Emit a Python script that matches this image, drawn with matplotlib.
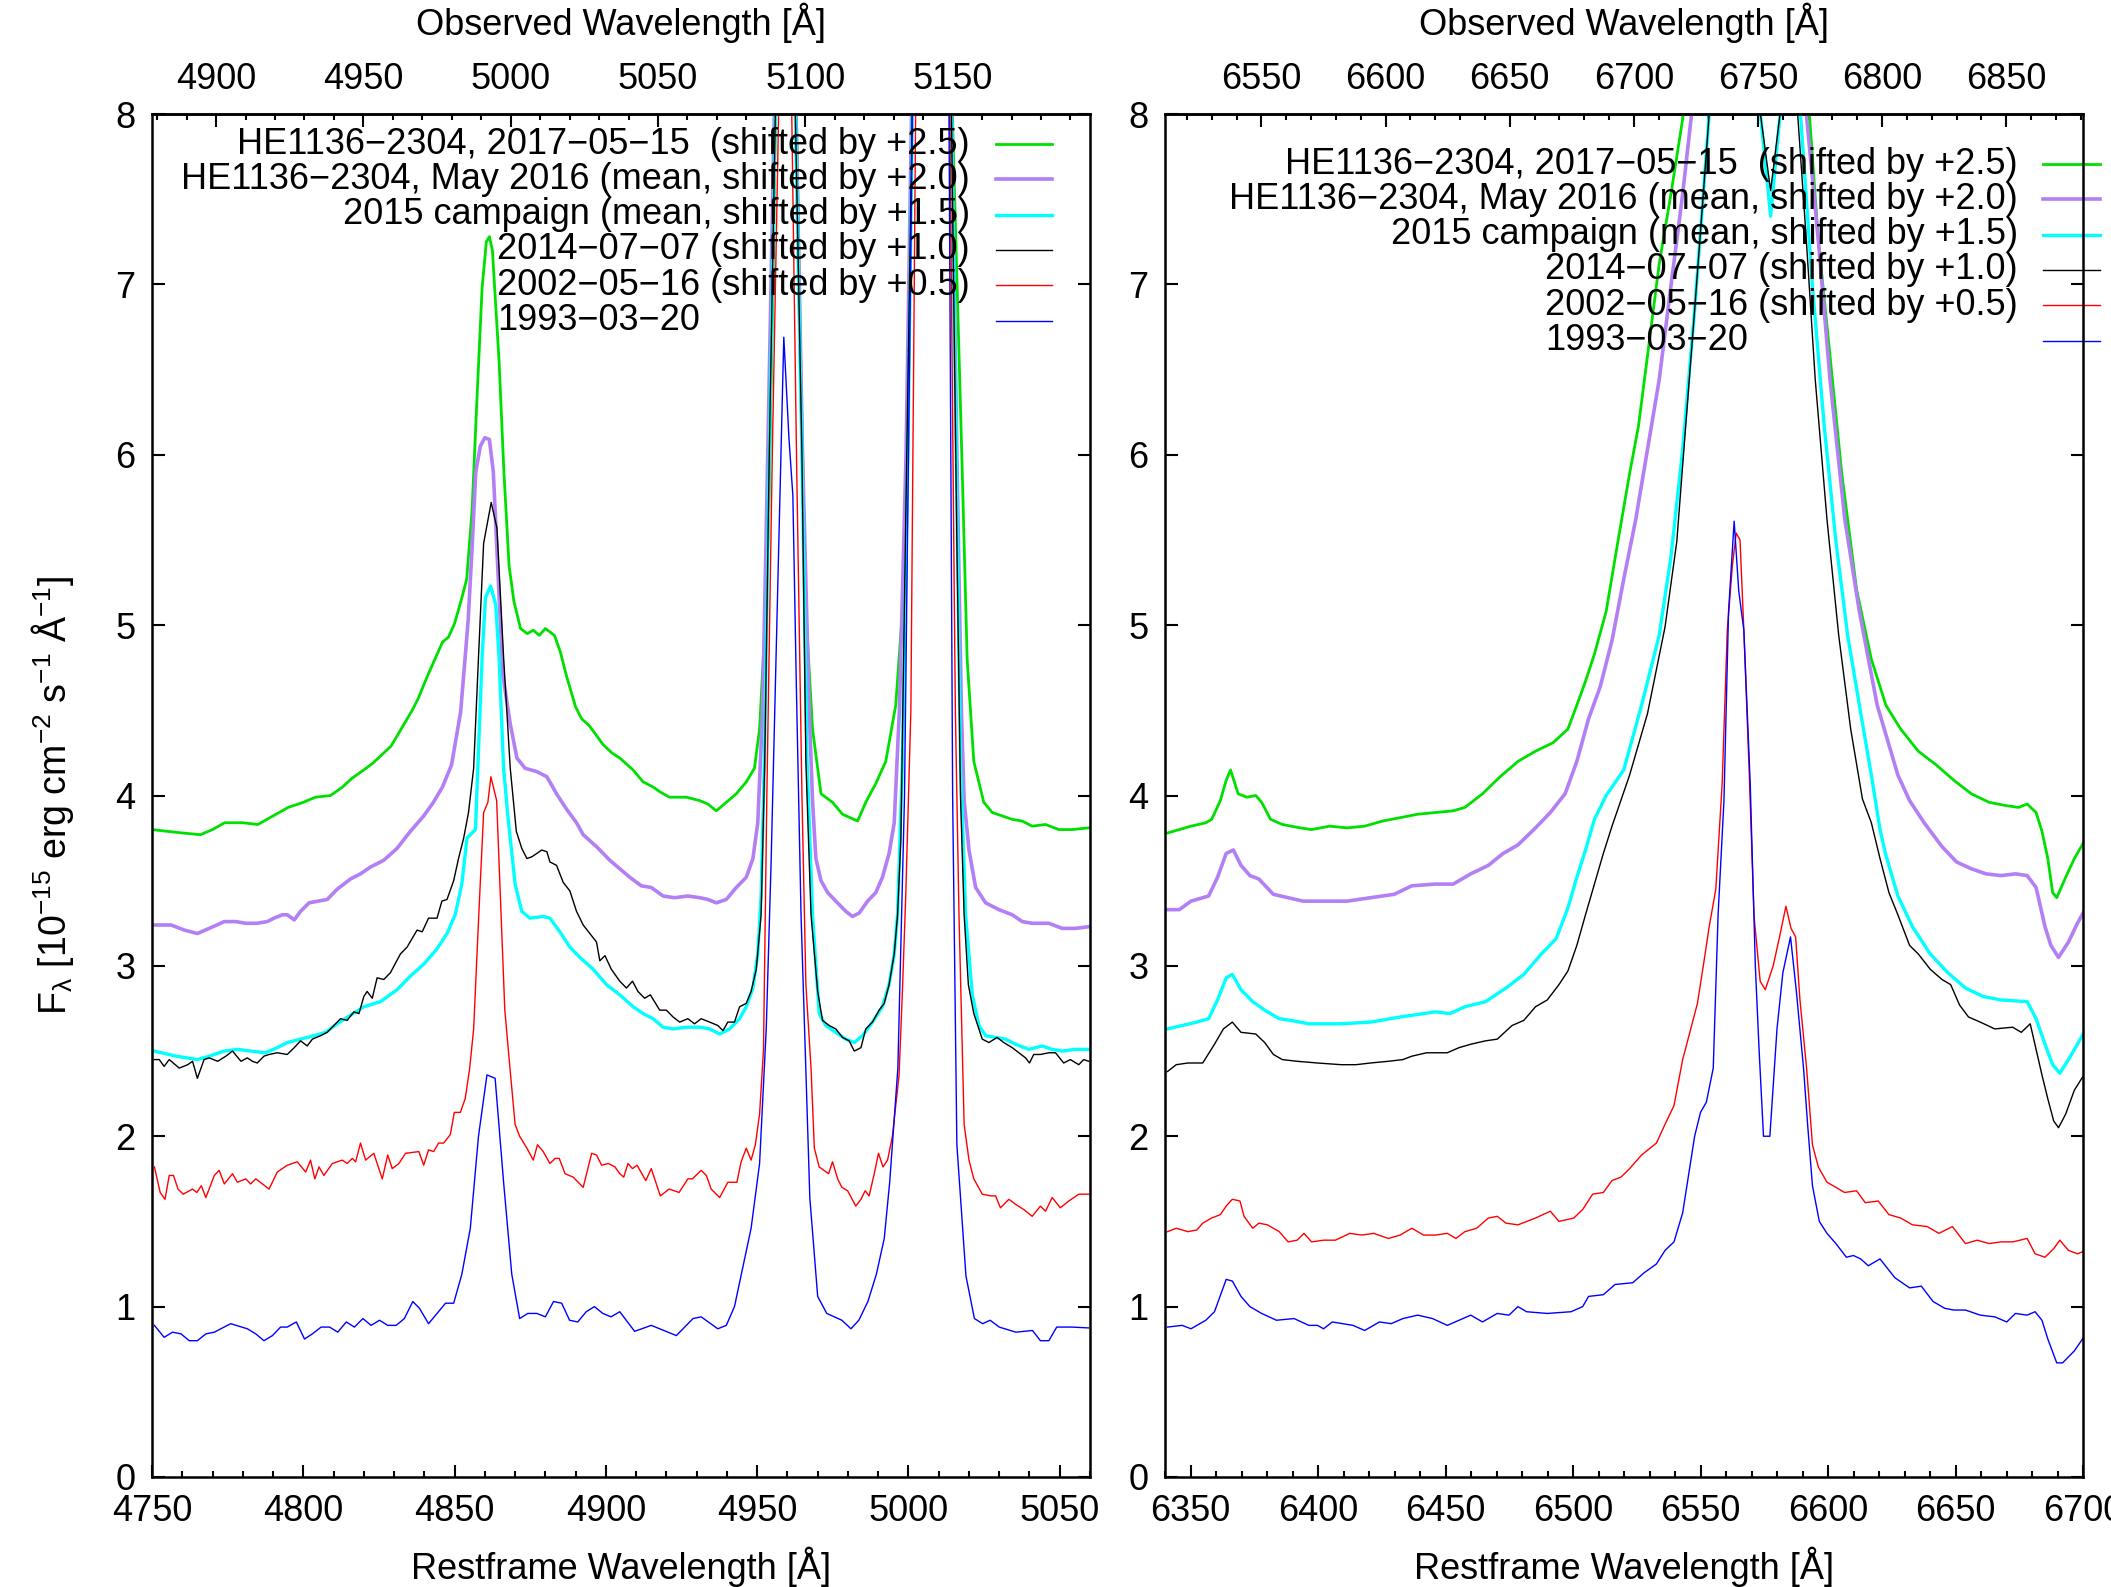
import numpy as np
import matplotlib.pyplot as plt

plt.rcParams["font.family"] = ["Liberation Sans", "DejaVu Sans"]
plt.rcParams["mathtext.fontset"] = "custom"
plt.rcParams["mathtext.rm"] = "Liberation Sans"
plt.rcParams["mathtext.it"] = "Liberation Sans:italic"
plt.rcParams["font.size"] = 26

Z = 0.027  # redshift of HE1136-2304, observed = rest*(1+z)

# ---------------- H-beta / [OIII] region (rest frame) ----------------
hb_wl_2017 = [4750, 4755, 4760, 4766, 4770, 4774, 4780, 4785, 4788, 4792, 4795, 4800, 4804, 4809, 4813,
              4816, 4820, 4823, 4826, 4829, 4831, 4833, 4836, 4838, 4841, 4843, 4846, 4848, 4850, 4852.4,
              4854, 4855.8, 4857.4, 4859.1, 4860.5, 4861.5, 4862.5, 4864.7, 4866.3, 4868, 4869.6, 4871.8,
              4874, 4876, 4878, 4880, 4883, 4885, 4887, 4890, 4892, 4894.5, 4897, 4899, 4902, 4904.6, 4909,
              4912.3, 4915.6, 4918, 4921, 4926.6, 4931, 4933.7, 4936.5, 4939.8, 4943.1, 4946.4, 4949.1,
              4950.8, 4952.4, 4953.8, 4955.2, 4956.3, 4959, 4962.5, 4964.5, 4966.1, 4968.3, 4971.1, 4974.9,
              4978.2, 4983.2, 4985.9, 4989.2, 4992.5, 4995.8, 4998, 4999.7, 5001.2, 5007, 5014.2, 5017.8,
              5019.4, 5021.6, 5024.9, 5027.7, 5031, 5034.3, 5037.6, 5040.9, 5045.3, 5049.7, 5054, 5059.6]
hb_fx_2017 = [3.80, 3.79, 3.78, 3.77, 3.80, 3.84, 3.84, 3.83, 3.86, 3.90, 3.93, 3.96, 3.99, 4.00, 4.05,
              4.10, 4.15, 4.19, 4.24, 4.29, 4.35, 4.41, 4.50, 4.57, 4.70, 4.78, 4.90, 4.93, 5.01, 5.16,
              5.27, 5.68, 6.33, 6.98, 7.25, 7.28, 7.20, 6.55, 5.90, 5.35, 5.14, 4.98,
              4.95, 4.97, 4.94, 4.98, 4.94, 4.84, 4.70, 4.52, 4.45, 4.41, 4.35, 4.30, 4.25, 4.22, 4.15,
              4.08, 4.05, 4.02, 3.99, 3.99, 3.97, 3.95, 3.91, 3.96, 4.01, 4.08, 4.16,
              4.39, 4.94, 5.62, 6.99, 8.3, 15.0, 8.5, 6.44, 5.08, 4.39, 4.01, 3.96,
              3.89, 3.85, 3.96, 4.07, 4.20, 4.53, 5.08, 5.89, 8.2, 40.0, 8.2, 5.89,
              4.80, 4.20, 3.96, 3.90, 3.88, 3.86, 3.85, 3.82, 3.83, 3.80, 3.80, 3.81]

hb_wl_2016 = [4750.8, 4756.3, 4760.7, 4765, 4768.9, 4773.9, 4777.7, 4781, 4784.8, 4788.1, 4790.3, 4793.1,
              4794.7, 4797, 4799.1, 4801.9, 4807.9, 4811.2, 4815.6, 4818.9, 4822.2, 4826.6, 4831, 4835.4,
              4839.8, 4843, 4846, 4849, 4852, 4854.5, 4855.8, 4857, 4858.5, 4860, 4861.5, 4862.8, 4864.5,
              4866, 4868.4, 4870.6, 4873.3, 4877.2, 4880.5, 4883.7, 4887, 4890.3, 4892.5, 4896.9, 4901.3,
              4904.6, 4907.9, 4911.7, 4915, 4918.9, 4922.7, 4927.1, 4931, 4933.7, 4936.5, 4939.8, 4943.1,
              4946.4, 4948.6, 4950.2, 4951.8, 4953.5, 4956, 4959, 4962.5, 4965, 4967.2, 4968.3, 4969.4,
              4971.1, 4973.3, 4976, 4979.3, 4981.5, 4983.7, 4986.5, 4989.2, 4991.4, 4993.6, 4995.3, 4997,
              4999.2, 5001.3, 5007, 5014, 5016, 5017.5, 5018.4, 5020, 5022.2, 5025.5, 5029.9, 5034.3,
              5037.6, 5040.9, 5046.4, 5050.8, 5055.2, 5059.6]
hb_fx_2016 = [3.24, 3.24, 3.21, 3.19, 3.22, 3.26, 3.26, 3.25, 3.25, 3.26, 3.28, 3.30,
              3.30, 3.27, 3.32, 3.37, 3.39, 3.45, 3.51, 3.54, 3.58, 3.62, 3.69, 3.79,
              3.88, 3.96, 4.05, 4.18, 4.49, 5.03, 5.46, 5.90, 6.05, 6.10, 6.09, 5.90, 5.25,
              4.70, 4.42, 4.22, 4.16, 4.14, 4.11, 4.01, 3.92, 3.84, 3.77, 3.70, 3.62,
              3.57, 3.52, 3.47, 3.46, 3.41, 3.40, 3.41, 3.40, 3.39, 3.37, 3.39, 3.46,
              3.52, 3.63, 3.84, 4.5, 6.0, 8.3, 15.0, 8.3, 6.0, 4.5, 3.97, 3.63,
              3.50, 3.43, 3.38, 3.32, 3.29, 3.31, 3.38, 3.43, 3.52, 3.66, 3.84, 4.5,
              6.0, 8.3, 40.0, 8.3, 6.0, 4.5, 3.97, 3.68, 3.46, 3.37, 3.33, 3.30,
              3.26, 3.25, 3.25, 3.22, 3.22, 3.23]

hb_wl_2015 = [4750.8, 4758, 4765, 4768.9, 4773.9, 4778.3, 4782.6, 4787.5, 4791.4, 4794.7, 4799.1, 4803.5,
              4807.4, 4811.2, 4815.6, 4820, 4825.5, 4831, 4835.4, 4839.8, 4844.2, 4847.5, 4850.2, 4852.4,
              4854.1, 4856.9, 4858, 4859.1, 4860.2, 4861.9, 4863.6, 4864.7, 4866.2, 4867.5, 4870, 4872.2,
              4874.9, 4879.3, 4881.5, 4884.8, 4888.1, 4891.4, 4895.8, 4900.2, 4904.6, 4909, 4912.3, 4915.6,
              4918.9, 4922.2, 4926.6, 4931, 4934.3, 4937.6, 4940.9, 4944.2, 4946.4, 4948.6, 4950.2, 4951.3,
              4952.4, 4954, 4956.3, 4959, 4962.3, 4964.8, 4966.5, 4968.3, 4970.5, 4972.7, 4976, 4979.3,
              4982.1, 4984.8, 4988.1, 4991.4, 4993.6, 4995.3, 4996.4, 4998, 4999.8, 5001.5, 5007, 5014,
              5015.8, 5017.2, 5018.9, 5021.1, 5023.3, 5025.5, 5028.8, 5032.1, 5035.4, 5039.8, 5044.2,
              5047.5, 5050.8, 5055.2, 5059.6]
hb_fx_2015 = [2.50, 2.47, 2.45, 2.47, 2.50, 2.51, 2.50, 2.49, 2.52, 2.55, 2.57, 2.59,
              2.61, 2.66, 2.71, 2.76, 2.79, 2.86, 2.94, 3.01, 3.10, 3.19, 3.30, 3.48,
              3.75, 3.80, 4.31, 4.81, 5.16, 5.23, 5.12, 4.81, 4.16, 3.90, 3.48, 3.32,
              3.28, 3.29, 3.28, 3.20, 3.11, 3.05, 2.98, 2.89, 2.83, 2.76, 2.72, 2.69,
              2.64, 2.63, 2.64, 2.64, 2.63, 2.60, 2.63, 2.69, 2.76, 2.87, 3.07, 3.41,
              4.2, 6.0, 8.3, 15.0, 8.3, 6.0, 4.2, 3.3, 2.72, 2.65, 2.61, 2.57,
              2.55, 2.59, 2.67, 2.76, 2.89, 3.07, 3.3, 4.2, 6.0, 8.3, 40.0, 8.3,
              6.0, 4.2, 3.3, 2.83, 2.65, 2.59, 2.58, 2.57, 2.54, 2.51, 2.53,
              2.51, 2.50, 2.51, 2.51]

hb_wl_2014 = [4750.8, 4752.4, 4754, 4755.7, 4759, 4761.8, 4763.4, 4765, 4767.2, 4768.9, 4771.7, 4774.4,
              4776.6, 4779.4, 4781.5, 4783.2, 4784.8, 4787, 4788.7, 4791.4, 4794.7, 4797, 4799.1, 4801.3,
              4803, 4805.7, 4807.9, 4810.1, 4812.3, 4814.5, 4816.7, 4818.4, 4820, 4821.1, 4822.8, 4824.4,
              4826.6, 4828.8, 4832.1, 4834.3, 4837.6, 4839.3, 4841.4, 4844.2, 4845.8, 4847.5, 4849.7,
              4851.3, 4853, 4854.6, 4856.3, 4857.9, 4859.6, 4862.1, 4864, 4866.2, 4868.4, 4870.4, 4872.2,
              4873.9, 4875.5, 4877.2, 4878.8, 4880.5, 4881.5, 4883.7, 4885.9, 4888.1, 4890.3, 4892.5,
              4894.7, 4896.9, 4898, 4899.7, 4901.8, 4904.6, 4906.8, 4908.8, 4910.6, 4912.8, 4914.7,
              4917.8, 4920, 4922.2, 4924.4, 4927.1, 4929.3, 4931.5, 4934.3, 4937, 4938.7, 4940.3, 4942.5,
              4944.2, 4946.4, 4948, 4949.7, 4951.3, 4952.5, 4954, 4956.3, 4959, 4962.3, 4964.8, 4966.1,
              4967.8, 4970, 4971.6, 4973.8, 4976, 4978.2, 4980.4, 4982.1, 4984.3, 4985.9, 4988.1, 4990.3,
              4992, 4993.6, 4995.3, 4996.4, 4997.5, 4999, 5001.5, 5007, 5014, 5016, 5017.2, 5018.4,
              5019.8, 5021.6, 5024.4, 5026.6, 5029.3, 5031.5, 5034.3, 5036.5, 5038.7, 5040, 5041.4,
              5043.6, 5046.4, 5048.6, 5051.3, 5053.5, 5056.3, 5057.9, 5059.6]
hb_fx_2014 = [2.45, 2.45, 2.41, 2.45, 2.40, 2.42, 2.44, 2.34, 2.45, 2.46, 2.44, 2.47,
              2.50, 2.44, 2.46, 2.44, 2.43, 2.47, 2.48, 2.49, 2.48, 2.52, 2.56, 2.53,
              2.57, 2.59, 2.61, 2.65, 2.69, 2.68, 2.73, 2.72, 2.82, 2.85, 2.81, 2.93,
              2.92, 2.96, 3.07, 3.11, 3.21, 3.20, 3.28, 3.28, 3.38, 3.39, 3.50,
              3.63, 3.75, 3.90, 4.16, 4.81, 5.48, 5.72, 5.57, 4.81, 4.16, 3.79, 3.69,
              3.63, 3.64, 3.66, 3.68, 3.67, 3.61, 3.59, 3.49, 3.44, 3.32, 3.24,
              3.19, 3.14, 3.03, 3.06, 2.98, 2.91, 2.87, 2.91, 2.85, 2.81, 2.83,
              2.74, 2.74, 2.70, 2.67, 2.69, 2.66, 2.69, 2.67, 2.65, 2.62, 2.67, 2.67,
              2.76, 2.78, 2.85, 2.98, 3.3, 4.2, 6.0, 8.3, 15.0, 8.3, 6.0, 4.2,
              3.3, 2.85, 2.68, 2.65, 2.63, 2.58, 2.56, 2.50, 2.52, 2.63, 2.67, 2.74,
              2.78, 2.89, 3.07, 3.3, 3.75, 5.5, 8.3, 40.0, 8.3, 5.5, 4.0, 3.3,
              2.89, 2.72, 2.57, 2.55, 2.58, 2.55, 2.52, 2.49, 2.46, 2.43, 2.48,
              2.48, 2.49, 2.49, 2.43, 2.45, 2.42, 2.45, 2.44]

hb_wl_2002 = [4750.8, 4752.7, 4754.3, 4755.7, 4757.1, 4758.6, 4760.3, 4763.4, 4764.8, 4766.3, 4767.8, 4770.6,
              4772.2, 4773.9, 4776.6, 4778.2, 4781, 4782.6, 4784.3, 4788.7, 4791.4, 4794.7, 4798, 4800.8,
              4802.4, 4803.8, 4805.2, 4806.8, 4809.6, 4812.9, 4814.5, 4816.2, 4817.3, 4818.9, 4820.6,
              4823.3, 4826.1, 4827.9, 4829.4, 4831.6, 4833.8, 4838.2, 4839.8, 4841.4, 4843.1, 4844.7,
              4846.4, 4848.6, 4849.9, 4851.9, 4853.5, 4855, 4856.3, 4858, 4859.6, 4861, 4862, 4863.9,
              4866.6, 4868.3, 4870, 4871.5, 4873.9, 4876, 4877.4, 4879.3, 4881.5, 4883.2, 4884.6, 4886.5,
              4889.2, 4892.5, 4895.3, 4896.9, 4898.6, 4900.8, 4903, 4904.6, 4905.9, 4907.3, 4908.8,
              4910.3, 4913.2, 4915, 4916.5, 4918, 4920.9, 4924.2, 4927.1, 4928.6, 4931.5, 4933.2, 4934.8,
              4937.6, 4940.3, 4943.3, 4944.7, 4946.4, 4948, 4949.4, 4950.8, 4952.1, 4953.2, 4955, 4957.4,
              4959, 4961.2, 4963, 4964.8, 4966.1, 4967.8, 4968.9, 4970.5, 4973.6, 4974.9, 4976.6, 4978,
              4979.9, 4982.6, 4984.3, 4985.7, 4987, 4988.7, 4990.1, 4991.6, 4993.1, 4994.7, 4996.9, 4998,
              4999.1, 5000.8, 5002.5, 5007, 5013.5, 5015.5, 5016.7, 5018.4, 5020, 5021.6, 5024.4, 5027.2,
              5028.8, 5030.4, 5033.2, 5035.4, 5038.1, 5040.9, 5043.6, 5045.3, 5047.5, 5050.2, 5053,
              5056.3, 5059.6]
hb_fx_2002 = [1.82, 1.67, 1.63, 1.77, 1.77, 1.69, 1.66, 1.69, 1.67, 1.71, 1.64, 1.77,
              1.80, 1.72, 1.78, 1.73, 1.75, 1.72, 1.75, 1.69, 1.79, 1.83, 1.85, 1.79,
              1.86, 1.75, 1.82, 1.77, 1.84, 1.86, 1.84, 1.87, 1.85, 1.96, 1.86,
              1.90, 1.75, 1.89, 1.81, 1.84, 1.90, 1.91, 1.83, 1.92, 1.91, 1.96,
              1.96, 2.01, 2.14, 2.14, 2.22, 2.40, 2.63, 3.30, 3.90, 3.96, 4.11, 3.97,
              2.74, 2.40, 2.07, 2.00, 1.93, 1.86, 1.95, 1.91, 1.84, 1.87, 1.87, 1.78,
              1.76, 1.70, 1.90, 1.89, 1.83, 1.84, 1.82, 1.78, 1.76, 1.84, 1.81,
              1.83, 1.74, 1.81, 1.73, 1.65, 1.69, 1.67, 1.75, 1.75, 1.80, 1.77, 1.69,
              1.64, 1.73, 1.73, 1.85, 1.93, 1.86, 1.95, 2.13, 2.51, 4.0, 6.0, 8.3,
              15.0, 8.3, 6.0, 4.0, 2.89, 2.40, 1.93, 1.82, 1.78, 1.85, 1.75, 1.70,
              1.68, 1.59, 1.63, 1.68, 1.65, 1.78, 1.90, 1.82, 1.86, 2.00, 2.36, 2.85,
              3.41, 4.5, 8.3, 40.0, 8.3, 4.5, 3.3, 2.07, 1.86, 1.75, 1.66, 1.65,
              1.65, 1.58, 1.63, 1.60, 1.57, 1.53, 1.59, 1.56, 1.64, 1.58, 1.62,
              1.66, 1.66]

hb_wl_1993 = [4750.8, 4754, 4756.8, 4759.6, 4762.3, 4765, 4767.8, 4770.6, 4776, 4781.5, 4784.3, 4787,
              4789.8, 4792.5, 4794.7, 4797.7, 4800.4, 4803, 4805.9, 4808.7, 4811.4, 4814.2, 4816.9,
              4819.7, 4822.4, 4825.2, 4827.9, 4830.7, 4833.4, 4836.2, 4838.4, 4841.4, 4844.2, 4847,
              4849.7, 4852.4, 4855.2, 4857.9, 4860.7, 4863.4, 4866.2, 4868.9, 4871.5, 4874.2, 4877.2,
              4880, 4882.7, 4885.4, 4888, 4890.7, 4893.5, 4896.2, 4899, 4901.7, 4904.6, 4909.5, 4915,
              4923.3, 4928.8, 4931.5, 4937, 4939.8, 4942.5, 4948, 4950.8, 4953, 4954.6, 4956.5, 4958.8,
              4960.5, 4961.8, 4963, 4964.5, 4967.4, 4970, 4973, 4978, 4981, 4983.6, 4986.6, 4989.4, 4992,
              4993.8, 4996.5, 4998.7, 5001.3, 5007.5, 5013.4, 5014.6, 5016, 5019, 5021.8, 5024.5, 5027,
              5030, 5035.5, 5041, 5043.6, 5046.4, 5049, 5054, 5059.5]
hb_fx_1993 = [0.89, 0.82, 0.85, 0.84, 0.80, 0.80, 0.84, 0.85, 0.90, 0.87, 0.84, 0.80,
              0.83, 0.88, 0.88, 0.91, 0.81, 0.84, 0.88, 0.88, 0.85, 0.91, 0.88,
              0.93, 0.89, 0.92, 0.89, 0.89, 0.93, 1.03, 0.99, 0.90, 0.96, 1.02,
              1.02, 1.19, 1.46, 2.00, 2.36, 2.34, 1.73, 1.19, 0.93, 0.96, 0.96,
              0.94, 1.03, 1.02, 0.92, 0.91, 0.97, 1.00, 0.96, 0.94, 0.97, 0.855, 0.89,
              0.83, 0.93, 0.94, 0.87, 0.89, 1.00, 1.46, 1.84, 2.63, 3.6, 5.0, 6.69,
              6.1, 5.76, 4.6, 3.3, 1.64, 1.06, 0.96, 0.92, 0.87, 0.92, 1.03, 1.19, 1.40,
              1.73, 2.40, 4.0, 8.0, 20.0, 8.0, 4.0, 1.95, 1.18, 0.93, 0.90, 0.92,
              0.88, 0.85, 0.86, 0.80, 0.80, 0.88, 0.88, 0.875]

# ---------------- H-alpha region (rest frame) ----------------
ha_wl_2017 = [6341, 6345.6, 6350.2, 6356, 6358.3, 6361.7, 6364, 6365.7, 6368.7, 6372.1, 6375.6, 6377.9,
              6381.4, 6386, 6393, 6397.5, 6404.5, 6411.4, 6418.3, 6425.3, 6432.2, 6439.1, 6446, 6453,
              6457.6, 6464.5, 6471.4, 6478.4, 6485.3, 6492.2, 6498, 6501.5, 6504.9, 6508.4, 6513, 6517.6,
              6522.2, 6525.7, 6529.2, 6533.8, 6538.4, 6543, 6550, 6563, 6577, 6583, 6590, 6592.7, 6596.2,
              6600.8, 6605.4, 6611.2, 6617, 6622.7, 6628.5, 6635.4, 6642.4, 6649.3, 6656.2, 6663.2,
              6670.1, 6674.7, 6678.1, 6681.6, 6683.9, 6686.2, 6688.1, 6689.7, 6693.2, 6696.6, 6700.1]
ha_fx_2017 = [3.78, 3.80, 3.82, 3.84, 3.86, 3.97, 4.09, 4.15, 4.01, 3.99, 4.00, 3.96,
              3.86, 3.83, 3.81, 3.80, 3.82, 3.81, 3.82, 3.85, 3.87, 3.89, 3.90, 3.91,
              3.93, 4.01, 4.11, 4.20, 4.26, 4.31, 4.39, 4.53, 4.67, 4.83, 5.08, 5.49,
              5.89, 6.17, 6.58, 7.12, 7.53, 7.97, 9.5, 14.0, 10.5, 12.0, 9.2, 8.0, 7.26,
              6.58, 5.89, 5.21, 4.80, 4.53, 4.39, 4.26, 4.18, 4.09, 4.01, 3.96,
              3.94, 3.93, 3.95, 3.90, 3.79, 3.63, 3.43, 3.40, 3.52, 3.63, 3.72]

ha_wl_2016 = [6341, 6345.6, 6350.2, 6357.1, 6360.6, 6364, 6366.8, 6369.8, 6373.3, 6376.8, 6382.5, 6388.3,
              6394.1, 6401, 6411.4, 6420.6, 6429.9, 6436.8, 6446, 6453, 6459.9, 6466.8, 6472.6, 6478.4,
              6485.3, 6491.1, 6496.9, 6501.5, 6506.1, 6510.7, 6515.3, 6519.9, 6524.6, 6529.2, 6533.8,
              6538.4, 6543, 6546.5, 6552, 6563, 6577, 6583, 6589, 6591.5, 6596.2, 6600.8, 6606.6, 6612.3,
              6619.3, 6627.4, 6632, 6637.7, 6644.7, 6650.4, 6656.2, 6662, 6667.8, 6673.5, 6678.1, 6681.6,
              6685.1, 6687.4, 6690.4, 6694.3, 6697.8, 6701.2]
ha_fx_2016 = [3.33, 3.33, 3.38, 3.41, 3.52, 3.66, 3.68, 3.59, 3.53, 3.51, 3.42, 3.40,
              3.38, 3.38, 3.38, 3.40, 3.42, 3.47, 3.48, 3.48, 3.54, 3.59, 3.66, 3.71,
              3.81, 3.90, 4.01, 4.20, 4.45, 4.64, 4.91, 5.27, 5.62, 6.03, 6.44,
              6.99, 7.53, 8.0, 9.5, 13.0, 9.5, 11.0, 8.8, 8.0, 7.26, 6.44, 5.62, 5.08,
              4.53, 4.12, 3.97, 3.84, 3.70, 3.61, 3.57, 3.54, 3.53, 3.54, 3.53, 3.46,
              3.23, 3.12, 3.05, 3.14, 3.25, 3.34]

ha_wl_2015 = [6341, 6346.7, 6352.5, 6357.1, 6360.6, 6364, 6366.4, 6369.8, 6374.4, 6379.1, 6384.8, 6389.4,
              6396.4, 6409.1, 6420.6, 6432.2, 6441.4, 6446, 6451.8, 6457.6, 6465.7, 6473.7, 6480.7, 6487.6,
              6493.4, 6498, 6501.5, 6504.9, 6508.4, 6513, 6519.9, 6526.9, 6533.8, 6538.4, 6543, 6547.7,
              6551.1, 6553.4, 6558, 6563, 6570, 6573.5, 6577.5, 6581.2, 6584, 6589.2, 6593.9, 6598.5,
              6603.1, 6607.7, 6612.3, 6617, 6620.4, 6622.5, 6627.4, 6633.1, 6640.1, 6647, 6653.9, 6660.9,
              6667.8, 6678.1, 6681.6, 6685.1, 6688.1, 6690.9, 6694.3, 6697.8, 6701.2]
ha_fx_2015 = [2.63, 2.65, 2.67, 2.69, 2.80, 2.93, 2.95, 2.86, 2.79, 2.74, 2.69, 2.68,
              2.66, 2.66, 2.67, 2.70, 2.72, 2.73, 2.72, 2.76, 2.79, 2.87, 2.95, 3.07,
              3.16, 3.34, 3.52, 3.68, 3.86, 4.00, 4.15, 4.53, 4.94, 5.40, 6.03, 6.85,
              7.53, 8.0, 9.5, 10.5, 9.0, 8.0, 7.40, 8.0, 9.0, 8.0, 6.99, 6.17,
              5.49, 4.94, 4.53, 4.12, 3.80, 3.66, 3.41, 3.23, 3.07, 2.96, 2.87, 2.82,
              2.80, 2.79, 2.69, 2.54, 2.42, 2.37, 2.45, 2.54, 2.63]

ha_wl_2014 = [6341, 6344.4, 6349, 6354.8, 6359.4, 6362.9, 6366.4, 6369.8, 6375.6, 6379.1, 6382.5, 6386,
              6391.8, 6399.8, 6409.1, 6414.9, 6420.6, 6427.6, 6433.3, 6436.8, 6442.6, 6450.7, 6455.3,
              6459.9, 6465.7, 6470.3, 6476.1, 6480.7, 6485.3, 6489.9, 6494.5, 6498, 6501.5, 6504.9,
              6508.4, 6511.9, 6515.3, 6522.2, 6529.2, 6536.1, 6540.7, 6544.2, 6547.7, 6551.1, 6553.4,
              6558, 6563, 6570, 6573.5, 6577.5, 6581.2, 6584, 6588.1, 6591.5, 6595, 6599.6, 6604.2,
              6608.9, 6613.5, 6617, 6620.4, 6623.9, 6627.4, 6632, 6635.4, 6640.1, 6644.7, 6648.1, 6651.6,
              6655.1, 6659.7, 6665.4, 6672.4, 6675.8, 6679.3, 6681.6, 6683.9, 6686.2, 6688.5, 6690.4,
              6693.2, 6696.6, 6701.2]
ha_fx_2014 = [2.38, 2.42, 2.43, 2.43, 2.54, 2.63, 2.67, 2.61, 2.60, 2.55, 2.48, 2.45,
              2.44, 2.43, 2.42, 2.42, 2.43, 2.44, 2.45, 2.47, 2.49, 2.49, 2.52,
              2.54, 2.56, 2.57, 2.65, 2.68, 2.76, 2.80, 2.89, 2.97, 3.12, 3.30,
              3.48, 3.66, 3.82, 4.12, 4.48, 4.99, 5.49, 6.17, 6.85, 7.53, 8.0,
              9.5, 10.5, 9.0, 8.0, 7.55, 8.0, 9.0, 8.0, 7.26, 6.44, 5.62, 4.94,
              4.39, 3.98, 3.84, 3.63, 3.43, 3.30, 3.12, 3.07, 2.98, 2.92, 2.89, 2.77,
              2.70, 2.67, 2.63, 2.64, 2.61, 2.66, 2.51, 2.36, 2.22, 2.09, 2.05,
              2.13, 2.27, 2.38]

ha_wl_2002 = [6341, 6344.4, 6349, 6352.5, 6354.8, 6358.3, 6361.7, 6364, 6366.4, 6369.4, 6371, 6374.4,
              6376.8, 6380.2, 6384.8, 6388.3, 6391.8, 6394.5, 6397.5, 6402.2, 6406.8, 6412.5, 6417.2,
              6421.8, 6427.6, 6432.2, 6436.8, 6441.4, 6446, 6450.7, 6454.1, 6457.6, 6462.2, 6466.8,
              6470.3, 6473.7, 6478.4, 6485.3, 6491.1, 6494.5, 6500.3, 6503.8, 6507.7, 6511.9, 6515.3,
              6518.8, 6522.2, 6526.9, 6532.7, 6536.1, 6539.6, 6543, 6545.3, 6548.8, 6551.1, 6553.4, 6556,
              6558.5, 6560.5, 6562.5, 6564, 6565.5, 6567, 6569, 6571, 6573.4, 6575.4, 6578.5, 6581,
              6583.5, 6585.5, 6587.3, 6589, 6591.6, 6593.9, 6596.2, 6599.6, 6603.1, 6606.5, 6611.2,
              6614.6, 6619.7, 6623.9, 6628.5, 6633.1, 6638.9, 6643.5, 6648.8, 6653.9, 6658.5, 6663.2,
              6667.8, 6672.4, 6678.1, 6681.2, 6685.1, 6688.5, 6690.9, 6694.3, 6697.8, 6701.2]
ha_fx_2002 = [1.44, 1.46, 1.44, 1.45, 1.49, 1.52, 1.54, 1.59, 1.63, 1.62, 1.53, 1.46,
              1.49, 1.48, 1.44, 1.38, 1.39, 1.43, 1.38, 1.39, 1.39, 1.43, 1.42,
              1.43, 1.40, 1.42, 1.46, 1.42, 1.42, 1.43, 1.40, 1.44, 1.46, 1.52,
              1.53, 1.49, 1.48, 1.52, 1.56, 1.50, 1.52, 1.57, 1.66, 1.67, 1.74,
              1.76, 1.81, 1.89, 1.96, 2.07, 2.18, 2.45, 2.58, 2.78, 3.00, 3.23, 3.45,
              4.07, 4.97, 5.35, 5.54, 5.50, 4.97, 4.18, 3.29, 2.91, 2.86, 3.00, 3.17,
              3.35, 3.22, 3.17, 2.80, 2.40, 1.95, 1.82, 1.73, 1.70, 1.67, 1.68,
              1.61, 1.62, 1.54, 1.52, 1.48, 1.47, 1.43, 1.47, 1.37, 1.39, 1.37,
              1.38, 1.38, 1.40, 1.31, 1.29, 1.34, 1.39, 1.33, 1.31, 1.33]

ha_wl_1993 = [6341, 6346.7, 6350.2, 6356, 6359.4, 6364, 6366.4, 6369.8, 6373.3, 6377.9, 6383.7, 6390.6,
              6396.4, 6399.8, 6402.2, 6405.6, 6413.7, 6418.3, 6424.1, 6428.7, 6433.3, 6439.1, 6444.9,
              6450.7, 6455.3, 6459.9, 6464.5, 6470.3, 6474.9, 6478.4, 6481.8, 6489.9, 6499.2, 6503.8,
              6506.1, 6511.9, 6516.5, 6523.4, 6528, 6532.7, 6536.1, 6539.6, 6543, 6545.3, 6547.7, 6550,
              6552.3, 6555, 6556.9, 6559.2, 6561, 6563.2, 6565, 6567, 6569.5, 6571.5, 6573, 6574.7,
              6577.2, 6580, 6582.3, 6585.3, 6587.6, 6590.4, 6592, 6593.9, 6596.6, 6599.6, 6603.1, 6607.2,
              6610, 6612.8, 6615.8, 6620.4, 6626.2, 6632, 6636.6, 6641.2, 6645.8, 6649.3, 6653.9, 6659.7,
              6665.4, 6670.1, 6673.5, 6678.1, 6681.2, 6683.9, 6686.2, 6689.7, 6692, 6696.6, 6701.2]
ha_fx_1993 = [0.88, 0.89, 0.87, 0.92, 0.97, 1.16, 1.15, 1.06, 1.00, 0.96, 0.92, 0.93,
              0.89, 0.89, 0.87, 0.91, 0.89, 0.86, 0.91, 0.90, 0.93, 0.95, 0.93,
              0.89, 0.92, 0.95, 0.91, 0.96, 0.95, 1.00, 0.97, 0.96, 0.97, 1.00,
              1.06, 1.07, 1.13, 1.14, 1.20, 1.25, 1.33, 1.38, 1.55, 1.77, 2.00, 2.14,
              2.20, 2.40, 3.30, 3.97, 5.08, 5.61, 5.20, 4.97, 4.07, 3.00, 2.50, 2.00,
              2.00, 2.63, 2.96, 3.17, 2.85, 2.40, 2.07, 1.71, 1.50, 1.43, 1.37, 1.29,
              1.30, 1.28, 1.24, 1.28, 1.17, 1.11, 1.12, 1.03, 0.99, 0.98, 0.98, 0.95,
              0.94, 0.91, 0.96, 0.95, 0.97, 0.92, 0.81, 0.67, 0.67, 0.74, 0.84]

labels = ["HE1136\u22122304, 2017\u221205\u221215  (shifted by +2.5)",
          "HE1136\u22122304, May 2016 (mean, shifted by +2.0)",
          "2015 campaign (mean, shifted by +1.5)",
          "2014\u221207\u221207 (shifted by +1.0)",
          "2002\u221205\u221216 (shifted by +0.5)",
          "1993\u221203\u221220"]
colors = ["#00e000", "#b37ff5", "#00ffff", "#000000", "#ff0000", "#0000ff"]
widths = [2.0, 2.6, 2.4, 1.0, 1.0, 1.0]

hb_series = [(hb_wl_2017, hb_fx_2017), (hb_wl_2016, hb_fx_2016), (hb_wl_2015, hb_fx_2015),
             (hb_wl_2014, hb_fx_2014), (hb_wl_2002, hb_fx_2002), (hb_wl_1993, hb_fx_1993)]
ha_series = [(ha_wl_2017, ha_fx_2017), (ha_wl_2016, ha_fx_2016), (ha_wl_2015, ha_fx_2015),
             (ha_wl_2014, ha_fx_2014), (ha_wl_2002, ha_fx_2002), (ha_wl_1993, ha_fx_1993)]

W, H = 2111, 1587
fig = plt.figure(figsize=(W / 100, H / 100), dpi=100)
bottom = 1 - 1477 / H
height = (1477 - 114) / H
ax1 = fig.add_axes([152 / W, bottom, (1090 - 152) / W, height])
ax2 = fig.add_axes([1165 / W, bottom, (2083 - 1165) / W, height])


def style_axes(ax, xlim, top_ticks):
    ax.set_xlim(*xlim)
    ax.set_ylim(0, 8)
    ax.set_yticks(range(0, 9))
    ax.xaxis.set_major_locator(plt.MultipleLocator(50))
    ax.xaxis.set_minor_locator(plt.MultipleLocator(10))
    ax.tick_params(which="both", direction="in", top=False, right=True, width=1.5)
    ax.tick_params(which="major", length=9, pad=12)
    ax.tick_params(which="minor", length=4.5)
    for s in ax.spines.values():
        s.set_linewidth(1.8)
    ax.set_xlabel("Restframe Wavelength [Å]", labelpad=13)

    sec = ax.secondary_xaxis("top", functions=(lambda x: x * (1 + Z), lambda x: x / (1 + Z)))
    sec.set_xticks(top_ticks)
    sec.xaxis.set_minor_locator(plt.MultipleLocator(10))
    sec.tick_params(which="both", direction="in", width=1.5)
    sec.tick_params(which="major", length=9, pad=12)
    sec.tick_params(which="minor", length=4.5)
    sec.spines["top"].set_linewidth(1.8)
    sec.set_xlabel("Observed Wavelength [Å]", labelpad=20)


style_axes(ax1, (4750, 5060), range(4900, 5151, 50))
style_axes(ax2, (6340, 6700), range(6550, 6851, 50))
ax1.set_ylabel(r"F$_{\mathrm{λ}}$ [10$^{-15}$ erg cm$^{-2}$ s$^{-1}$ Å$^{-1}$]",
               labelpad=28, fontsize=27)

for ax, series in [(ax1, hb_series), (ax2, ha_series)]:
    for (wl, fx), c, lw in zip(series, colors, widths):
        ax.plot(wl, fx, color=c, lw=lw)

# gnuplot-style key: right-justified text with the sample line to its right
fig.canvas.draw()
renderer = fig.canvas.get_renderer()
for ax, text_x, line_x, y0 in [(ax1, 970, (996, 1052), 144), (ax2, 2018, (2043, 2100), 164)]:
    x0_ax, x1_ax = ax.get_position().x0 * W, ax.get_position().x1 * W
    wpx = x1_ax - x0_ax
    hpx = 1363
    tx = (text_x - x0_ax) / wpx
    lx = [(v - x0_ax) / wpx for v in line_x]
    prev = None
    for i, (lab, c, lw) in enumerate(zip(labels, colors, widths)):
        ty = (1477 - (y0 + i * 35.3)) / hpx
        if i < 5:
            t = ax.text(tx, ty, lab, transform=ax.transAxes, ha="right", va="center")
            prev = t
        else:
            bb = prev.get_window_extent(renderer)
            xa = ax.transAxes.inverted().transform((bb.x0, bb.y0))[0]
            ax.text(xa, ty, lab, transform=ax.transAxes, ha="left", va="center")
        ax.plot(lx, [ty, ty], color=c, lw=lw, transform=ax.transAxes, clip_on=False)

fig.savefig("out.png", dpi=100)
